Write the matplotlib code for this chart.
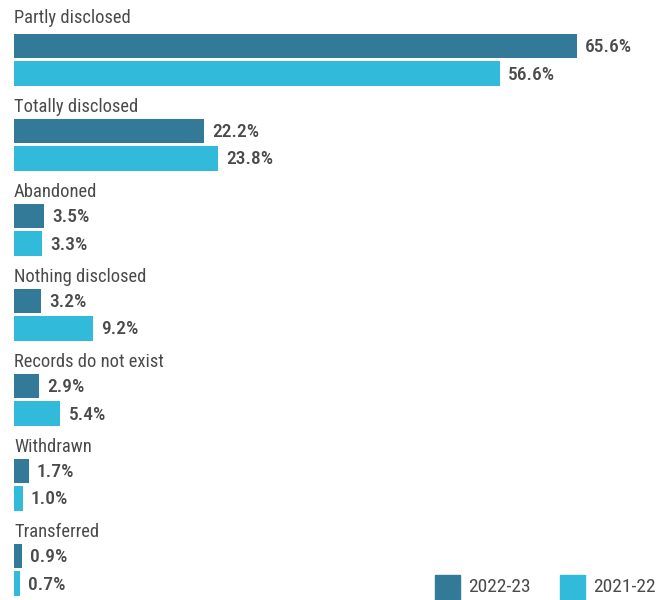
import matplotlib.pyplot as plt
from matplotlib.patches import Rectangle

categories = ["Partly disclosed", "Totally disclosed", "Abandoned", "Nothing disclosed",
              "Records do not exist", "Withdrawn", "Transferred"]
y2022 = [65.6, 22.2, 3.5, 3.2, 2.9, 1.7, 0.9]
y2021 = [56.6, 23.8, 3.3, 9.2, 5.4, 1.0, 0.7]
series = ["2022-23", "2021-22"]

dark = "#337a99"
light = "#31bada"
grey = "#4a4a4a"

plt.rcParams['font.family'] = ['Roboto Condensed', 'Roboto', 'DejaVu Sans']

fig = plt.figure(figsize=(6.71, 6.0), dpi=100)
ax = fig.add_axes([0, 0, 1, 1])
# 8.58 px per percentage point, bars start 14 px from the left edge
ax.set_xlim(-14 / 8.58, 657 / 8.58)
ax.set_ylim(600, 0)
ax.axis("off")

pitch = 85
for i, cat in enumerate(categories):
    top = 34 + i * pitch
    ax.text(0, top - (11 if i == 0 else 7), cat, fontsize=13.3, color=grey,
            va="baseline", ha="left")
    for v, yc, hh, col in ((y2022[i], top + 12, 24, dark), (y2021[i], top + 39.5, 25, light)):
        ax.barh(yc, v, height=hh, color=col, left=0)
        ax.text(v + 0.95, yc + 1, f"{v:.1f}%", fontsize=14, color=grey,
                fontweight="medium", va="center", ha="left")

# legend in the bottom right corner
for x0, col, lab in ((435, dark, series[0]), (560, light, series[1])):
    fig.patches.append(Rectangle((x0 / 671, 0), 25 / 671, 25 / 600,
                                 color=col, transform=fig.transFigure))
    fig.text((x0 + 33) / 671, 13 / 600, lab, fontsize=14, color=grey,
             va="center", ha="left")

fig.savefig("out.png", dpi=100)
